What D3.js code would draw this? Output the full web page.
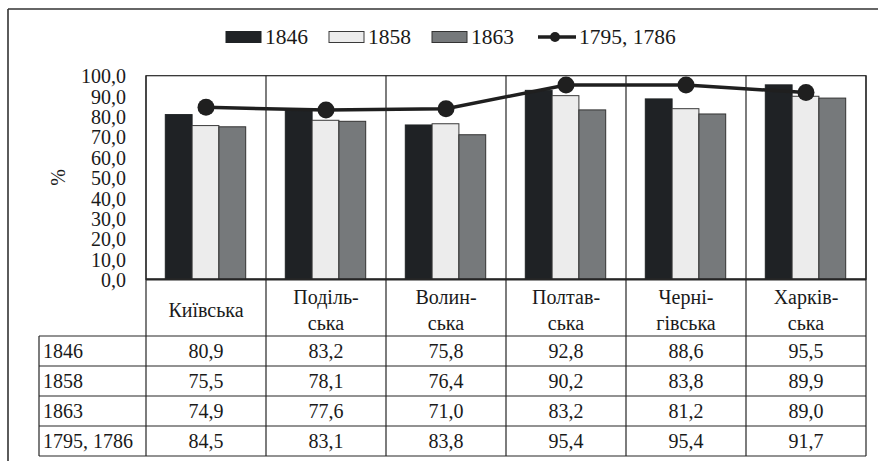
<!DOCTYPE html>
<html>
<head>
<meta charset="utf-8">
<script src="https://cdn.jsdelivr.net/npm/d3@7"></script>
</head>
<body style="margin:0">
<svg id="chart" width="878" height="461"></svg>
<script>
// Regions (header lines as printed in the table)
const regions = ["Київська", "Подільська", "Волинська", "Полтавська", "Чернігівська", "Харківська"];
const regionLines = [["Київська"], ["Поділь-", "ська"], ["Волин-", "ська"], ["Полтав-", "ська"], ["Черні-", "гівська"], ["Харків-", "ська"]];

// Shares, %
const v1846 = [80.9, 83.2, 75.8, 92.8, 88.6, 95.5];
const v1858 = [75.5, 78.1, 76.4, 90.2, 83.8, 89.9];
const v1863 = [74.9, 77.6, 71.0, 83.2, 81.2, 89.0];
const v1795 = [84.5, 83.1, 83.8, 95.4, 95.4, 91.7];

const barSeries = ["1846", "1858", "1863"];
const lineSeries = "1795, 1786";
const yTicks = [0, 10, 20, 30, 40, 50, 60, 70, 80, 90, 100];

const barValues = { "1846": v1846, "1858": v1858, "1863": v1863 };
const colors = { "1846": "#1f2225", "1858": "#ececec", "1863": "#76797b" };
const strokes = { "1846": "#1f2225", "1858": "#3a3a3a", "1863": "#333" };
const tableRows = [
  { label: "1846", values: v1846 },
  { label: "1858", values: v1858 },
  { label: "1863", values: v1863 },
  { label: lineSeries, values: v1795 }
];

const SERIF = '"Liberation Serif", "Times New Roman", serif';
const svg = d3.select("#chart");
const plot = { left: 146, right: 866, top: 75.7, bottom: 279.3 };
const table = { labelLeft: 39, headerBottom: 336, rowH: 30 };
const ink = "#262626";

const comma = d3.formatLocale({ decimal: ",", thousands: " ", grouping: [3], currency: ["", ""] }).format(".1f");

const x = d3.scaleBand().domain(regions).range([plot.left, plot.right]).padding(0);
const xs = d3.scaleBand().domain(barSeries).range([19.3, 99.7]).padding(0);
const y = d3.scaleLinear().domain([0, 100]).range([plot.bottom, plot.top]);
const cx = d => x(d) + x.bandwidth() / 2;

// Outer frame (top and left edges)
svg.append("line").attr("x1", 8).attr("x2", 878).attr("y1", 9).attr("y2", 9)
  .attr("stroke", "#333").attr("stroke-width", 1.6);
svg.append("line").attr("x1", 8).attr("x2", 8).attr("y1", 9).attr("y2", 461)
  .attr("stroke", "#333").attr("stroke-width", 1.6);

// Y axis labels
const yAxis = d3.axisLeft(y).tickValues(yTicks).tickSize(0).tickPadding(20).tickFormat(comma);
const ya = svg.append("g").attr("transform", `translate(${plot.left},0)`).call(yAxis);
ya.attr("font-family", null).attr("font-size", null);
ya.select(".domain").remove();
ya.selectAll("text")
  .style("font-family", SERIF).attr("font-size", 20).attr("fill", "#1a1a1a")
  .attr("dy", "0.36em");

svg.append("text").style("font-family", SERIF).attr("font-size", 20).attr("fill", "#1a1a1a")
  .attr("transform", `translate(65,${(plot.top + plot.bottom) / 2}) rotate(-90)`)
  .attr("text-anchor", "middle").text("%");

// Plot frame
svg.append("rect").attr("x", plot.left).attr("y", plot.top)
  .attr("width", plot.right - plot.left).attr("height", plot.bottom - plot.top)
  .attr("fill", "none").attr("stroke", ink).attr("stroke-width", 1.2);

// Bars
const groups = svg.append("g").selectAll("g").data(regions).join("g")
  .attr("transform", d => `translate(${x(d)},0)`);
groups.selectAll("rect")
  .data((d, i) => barSeries.map(s => ({ s, v: barValues[s][i] })))
  .join("rect")
  .attr("x", d => xs(d.s))
  .attr("width", xs.bandwidth())
  .attr("y", d => y(d.v))
  .attr("height", d => y(0) - y(d.v))
  .attr("fill", d => colors[d.s])
  .attr("stroke", d => strokes[d.s])
  .attr("stroke-width", 1);

// Line series
const lineData = regions.map((r, i) => ({ r, v: v1795[i] }));
svg.append("path").datum(lineData)
  .attr("fill", "none").attr("stroke", "#1f1f1f").attr("stroke-width", 3.5)
  .attr("d", d3.line().x(d => cx(d.r)).y(d => y(d.v)));
svg.append("g").selectAll("circle").data(lineData).join("circle")
  .attr("cx", d => cx(d.r)).attr("cy", d => y(d.v)).attr("r", 8.5)
  .attr("fill", "#1f1f1f");

// Axis base line
svg.append("line").attr("x1", plot.left).attr("x2", plot.right)
  .attr("y1", plot.bottom).attr("y2", plot.bottom)
  .attr("stroke", ink).attr("stroke-width", 2.2);

// Data table
const tBottom = table.headerBottom + tableRows.length * table.rowH;
const tg = svg.append("g");
x.domain().concat([null]).forEach(d => {
  const xx = d === null ? plot.right : x(d);
  tg.append("line").attr("x1", xx).attr("x2", xx).attr("y1", plot.top).attr("y2", tBottom)
    .attr("stroke", ink).attr("stroke-width", 1.2);
});
tg.append("line").attr("x1", table.labelLeft).attr("x2", table.labelLeft)
  .attr("y1", table.headerBottom).attr("y2", tBottom).attr("stroke", ink).attr("stroke-width", 1.2);
d3.range(tableRows.length + 1).forEach(i => {
  const yy = table.headerBottom + i * table.rowH;
  tg.append("line").attr("x1", table.labelLeft).attr("x2", plot.right)
    .attr("y1", yy).attr("y2", yy).attr("stroke", ink).attr("stroke-width", 1.2);
});
// header cells
tg.append("g").selectAll("text")
  .data(regions.flatMap((r, i) => regionLines[i].map((ln, j) => ({ r, ln, j, n: regionLines[i].length }))))
  .join("text")
  .style("font-family", SERIF).attr("font-size", 20).attr("fill", "#1a1a1a")
  .attr("text-anchor", "middle")
  .attr("x", d => cx(d.r))
  .attr("y", d => 317 + (d.j - (d.n - 1) / 2) * 26)
  .text(d => d.ln);
// row labels
tg.append("g").selectAll("text").data(tableRows).join("text")
  .style("font-family", SERIF).attr("font-size", 20).attr("fill", "#1a1a1a")
  .attr("x", table.labelLeft + 4)
  .attr("y", (d, k) => table.headerBottom + k * table.rowH + 21.5)
  .text(d => d.label);
// values
tg.append("g").selectAll("text")
  .data(tableRows.flatMap((row, k) => row.values.map((v, i) => ({ k, v, r: regions[i] }))))
  .join("text")
  .style("font-family", SERIF).attr("font-size", 20).attr("fill", "#1a1a1a")
  .attr("text-anchor", "middle")
  .attr("x", d => cx(d.r))
  .attr("y", d => table.headerBottom + d.k * table.rowH + 21.5)
  .text(d => comma(d.v));

// Legend
const lg = svg.append("g");
let lx = 226;
const ly = 37;
const legendText = (xx, s) => lg.append("text").style("font-family", SERIF)
  .attr("font-size", 21.5).attr("fill", "#1a1a1a").attr("x", xx).attr("y", ly + 7.3).text(s);
barSeries.forEach(s => {
  lg.append("rect").attr("x", lx).attr("y", ly - 5.5).attr("width", 35).attr("height", 11)
    .attr("fill", colors[s]).attr("stroke", strokes[s]).attr("stroke-width", 1);
  const t = legendText(lx + 39, s);
  lx += 39 + t.node().getComputedTextLength() + 21;
});
lx += 3;
lg.append("line").attr("x1", lx).attr("x2", lx + 38).attr("y1", ly).attr("y2", ly)
  .attr("stroke", "#1f1f1f").attr("stroke-width", 3.5);
lg.append("circle").attr("cx", lx + 17).attr("cy", ly).attr("r", 5).attr("fill", "#1f1f1f");
legendText(lx + 41, lineSeries);
</script>
</body>
</html>
